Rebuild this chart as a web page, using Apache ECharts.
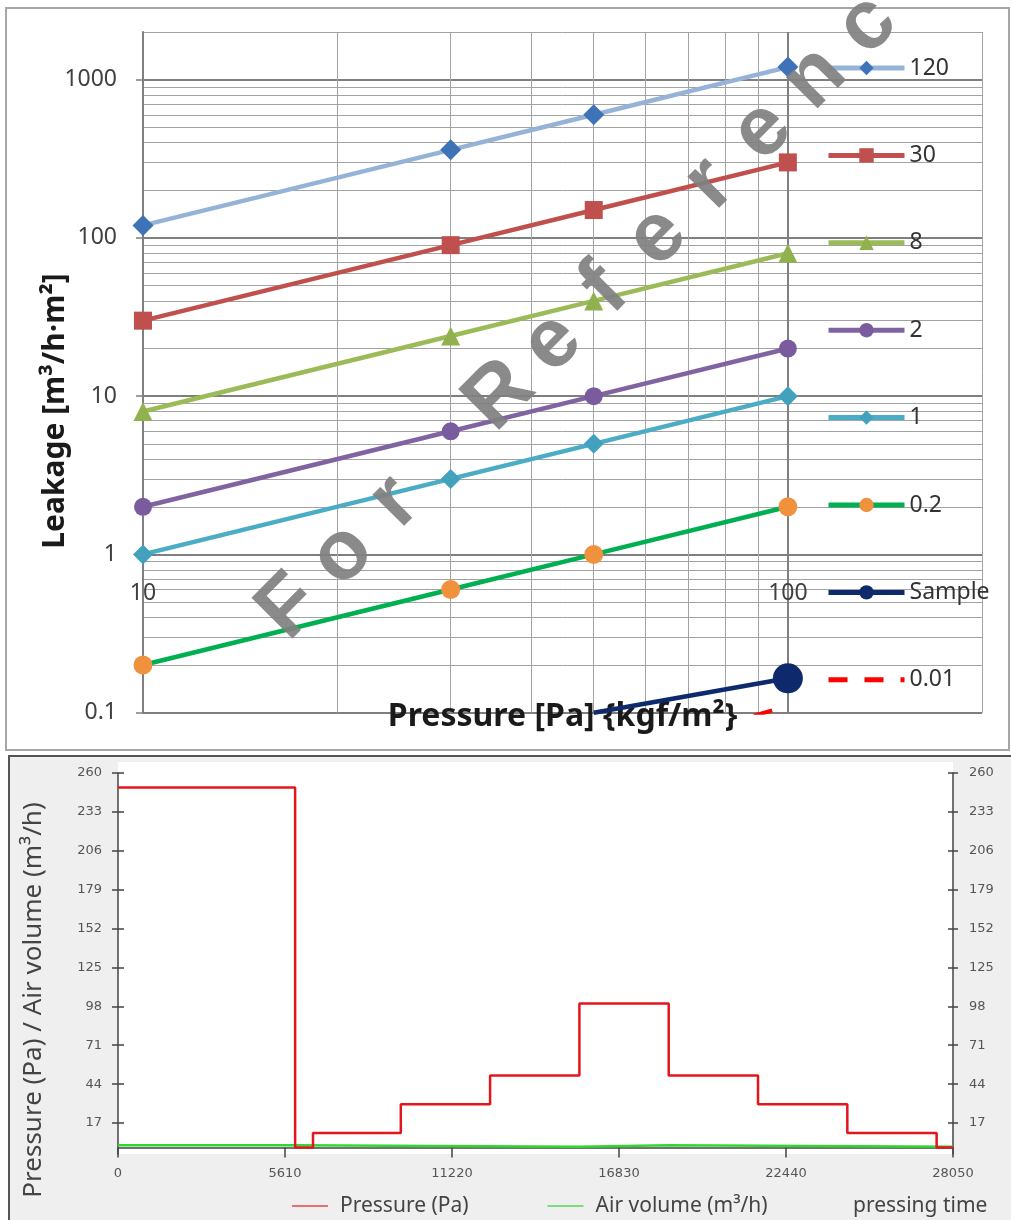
<!DOCTYPE html>
<html><head><meta charset="utf-8">
<script src="https://cdn.jsdelivr.net/npm/echarts@6/dist/echarts.min.js"></script>
<style>html,body{margin:0;padding:0;background:#fff}#c{width:1011px;height:1220px}</style>
</head><body><div id="c"></div>
<script>
// ---------- Top chart: leakage vs pressure (log-log) ----------
const pressurePoints = [10, 30, 50, 100];
const leak120 = [120, 360, 600, 1200];
const leak30 = [30, 90, 150, 300];
const leak8 = [8, 24, 40, 80];
const leak2 = [2, 6, 10, 20];
const leak1 = [1, 3, 5, 10];
const leak02 = [0.2, 0.6, 1, 2];
const leakSample = [null, null, 0.1, 0.165];
const leak001 = [0.01, 0.03, 0.05, 0.11];
const yMajor = [0.1, 1, 10, 100, 1000];
const yMinor = [0.2,0.3,0.4,0.5,0.6,0.7,0.8,0.9, 2,3,4,5,6,7,8,9, 20,30,40,50,60,70,80,90, 200,300,400,500,600,700,800,900, 2000];
const xMajor = [10, 100];
const xMinor = [20,30,40,50,60,70,80,90,200];
const topLegendNames = ['120','30','8','2','1','0.2','Sample','0.01'];

// ---------- Bottom chart: pressure / air volume vs pressing time ----------
const timePoints = [0, 5950, 6550, 9500, 12500, 15500, 18500, 21500, 24500, 27500, 28050];
const pressureSteps = [250, 0, 10, 30, 50, 100, 50, 30, 10, 0, 0];
const airTimes = [0, 5950, 15500, 18500, 28050];
const airSteps = [1.5, 0.5, 1.5, 0.5, 0.5];
const pvTicks = [17, 44, 71, 98, 125, 152, 179, 206, 233, 260];
const watermarkText = 'For Reference';

const font = '"Noto Sans", "DejaVu Sans", sans-serif';
function pairs(xs, ys) { return xs.map((x, i) => [x, ys[i]]).filter(p => p[1] != null); }
const fmt = v => String(+(+v).toPrecision(6));

const topDefs = [
  {name:'120', data:leak120, line:'#95b3d7', mark:'#3f73b8', symbol:'diamond', size:21},
  {name:'30', data:leak30, line:'#c0504d', mark:'#c0504d', symbol:'rect', size:18},
  {name:'8', data:leak8, line:'#9bbb59', mark:'#8fb24e', symbol:'triangle', size:19},
  {name:'2', data:leak2, line:'#8064a2', mark:'#7a5c9e', symbol:'circle', size:18},
  {name:'1', data:leak1, line:'#4bacc6', mark:'#42a2bd', symbol:'diamond', size:20},
  {name:'0.2', data:leak02, line:'#00b050', mark:'#f0913e', symbol:'circle', size:19}
];

const series = topDefs.map(d => ({
  type:'line', name:d.name, xAxisIndex:0, yAxisIndex:0,
  data: pairs(pressurePoints, d.data),
  symbol:d.symbol, symbolSize:d.size,
  lineStyle:{color:d.line, width:4.5}, itemStyle:{color:d.mark}, z:3
}));
const samplePairs = pairs(pressurePoints, leakSample);
series.push({
  type:'line', name:'Sample', xAxisIndex:0, yAxisIndex:0,
  data: samplePairs.map((p, i) => i === samplePairs.length - 1 ? {value:p, symbolSize:30} : {value:p, symbol:'none'}),
  symbol:'circle', symbolSize:10,
  lineStyle:{color:'#0e2a6c', width:4.5}, itemStyle:{color:'#0e2a6c'}, z:3
});
series.push({
  type:'line', name:'0.01', xAxisIndex:0, yAxisIndex:0,
  data: pairs(pressurePoints, leak001), symbol:'none',
  lineStyle:{color:'#ff0000', width:4, type:[19,17], dashOffset:17.6}, itemStyle:{color:'#ff0000'}, z:3
});
series.push({
  type:'line', name:'Pressure (Pa)', xAxisIndex:2, yAxisIndex:2, step:'end', symbol:'none',
  data: pairs(timePoints, pressureSteps), lineStyle:{color:'#e3161c', width:2.5}, itemStyle:{color:'#e3161c'}, z:4
});
series.push({
  type:'line', name:'Air volume (m³/h)', xAxisIndex:2, yAxisIndex:2, step:'end', symbol:'none',
  data: pairs(airTimes, airSteps), lineStyle:{color:'#2fd82f', width:2.5}, itemStyle:{color:'#2fd82f'}, z:3
});

const majorLine = {show:true, lineStyle:{color:'#7f7f7f', width:2}};
const minorLine = {show:true, lineStyle:{color:'#a3a3a3', width:1}};
const smallFont = '"DejaVu Sans", sans-serif';

const option = {
  animation:false,
  backgroundColor:'#ffffff',
  grid:[
    {left:143, top:32, width:839, height:680.7},
    {left:118, top:773, width:835, height:381}
  ],
  xAxis:[
    {gridIndex:0, type:'log', logBase:10, min:10, max:200, position:'bottom', offset:-139,
     axisLine:{show:false}, axisTick:{show:false, customValues:xMajor},
     axisLabel:{customValues:xMajor, fontSize:23, color:'#404040', fontFamily:font, formatter:fmt},
     splitLine:majorLine},
    {gridIndex:0, type:'log', logBase:10, min:10, max:200, position:'bottom',
     axisLine:{show:false}, axisTick:{show:false, customValues:xMinor}, axisLabel:{show:false},
     splitLine:minorLine,
     name:'Pressure [Pa] {kgf/m²}', nameLocation:'middle', nameGap:-12,
     nameTextStyle:{fontSize:32, fontWeight:'bold', color:'#1a1a1a', fontFamily:font}},
    {gridIndex:1, type:'value', min:0, max:28050, interval:5610, position:'bottom',
     axisLine:{lineStyle:{color:'#444', width:1.5}},
     axisTick:{length:10, lineStyle:{color:'#444', width:1.5}},
     axisLabel:{fontSize:13, color:'#555', margin:13, fontFamily:smallFont, formatter:v => String(v)},
     splitLine:{show:false}}
  ],
  yAxis:[
    {gridIndex:0, type:'log', logBase:10, min:0.1, max:2000, position:'left',
     axisLine:{show:true, lineStyle:{color:'#7f7f7f', width:2}},
     axisTick:{show:true, length:7, customValues:yMajor, lineStyle:{color:'#7f7f7f', width:1.5}},
     axisLabel:{customValues:yMajor, fontSize:23, color:'#404040', margin:26, fontFamily:font, formatter:fmt},
     splitLine:majorLine},
    {gridIndex:0, type:'log', logBase:10, min:0.1, max:2000, position:'left',
     axisLine:{show:false}, axisTick:{show:false, customValues:yMinor}, axisLabel:{show:false},
     splitLine:minorLine},
    {gridIndex:1, type:'value', position:'left', min:-4.5, max:260,
     axisLine:{show:true, lineStyle:{color:'#444', width:1.5}},
     axisTick:{show:true, length:6, customValues:pvTicks, lineStyle:{color:'#444', width:1.5}},
     axisLabel:{customValues:pvTicks, fontSize:13, color:'#555', margin:16, fontFamily:smallFont},
     splitLine:{show:false}},
    {gridIndex:1, type:'value', position:'left', min:-4.5, max:260,
     axisLine:{show:false},
     axisTick:{show:true, inside:true, length:6, customValues:pvTicks, lineStyle:{color:'#444', width:1.5}},
     axisLabel:{show:false}, splitLine:{show:false}},
    {gridIndex:1, type:'value', position:'right', min:-4.5, max:260,
     axisLine:{show:true, lineStyle:{color:'#444', width:1.5}},
     axisTick:{show:true, length:5, customValues:pvTicks, lineStyle:{color:'#444', width:1.5}},
     axisLabel:{customValues:pvTicks, fontSize:13, color:'#555', margin:16, fontFamily:smallFont},
     splitLine:{show:false}},
    {gridIndex:1, type:'value', position:'right', min:-4.5, max:260,
     axisLine:{show:false},
     axisTick:{show:true, inside:true, length:5, customValues:pvTicks, lineStyle:{color:'#444', width:1.5}},
     axisLabel:{show:false}, splitLine:{show:false}}
  ],
  legend:[
    {orient:'vertical', left:826, top:56, padding:0, itemWidth:76, itemHeight:18, itemGap:63.4,
     selectedMode:false, lineStyle:{width:5, dashOffset:0},
     data: topLegendNames.map(n => n === '0.01' ? {name:n, itemStyle:{opacity:0}} : n),
     textStyle:{fontSize:23, lineHeight:24, color:'#333', fontFamily:font}},
    {orient:'horizontal', left:292, top:1194, padding:0, itemWidth:36, itemHeight:2, itemGap:79,
     icon:'rect', selectedMode:false,
     data:[{name:'Pressure (Pa)', itemStyle:{color:'#e87070'}}, {name:'Air volume (m³/h)', itemStyle:{color:'#7ddc7d'}}],
     textStyle:{fontSize:21, lineHeight:24, color:'#444', fontFamily:font, padding:[0,0,0,7]}}
  ],
  graphic:[
    {type:'rect', z:-100, shape:{x:6, y:8, width:1003, height:742}, style:{fill:'#fff', stroke:'#a6a6a6', lineWidth:2}},
    {type:'rect', z:-100, shape:{x:9, y:756, width:1010, height:470}, style:{fill:'#efefef', stroke:'#555', lineWidth:2}},
    {type:'rect', z:-99, shape:{x:118, y:762, width:835, height:392}, style:{fill:'#ffffff'}},
    {type:'text', x:55, y:411, rotation:Math.PI/2, z:10,
     style:{text:'Leakage [m³/h·m²]', font:'bold 30px ' + font, fill:'#1a1a1a', textAlign:'center', textVerticalAlign:'middle'}},
    {type:'text', x:34, y:1000, rotation:Math.PI/2, z:10,
     style:{text:'Pressure (Pa) / Air volume (m³/h)', font:'26px ' + font, fill:'#444', textAlign:'center', textVerticalAlign:'middle'}},
    {type:'text', x:853, y:1206, z:10,
     style:{text:'pressing time', font:'21px ' + font, fill:'#444', textAlign:'left', textVerticalAlign:'middle'}},
    {type:'group', x:290, y:608, rotation:0.79, z:100,
     children: watermarkText.split('').map((ch, i) => ({
       type:'text', x:i * 74.6, y:0, z:100,
       style:{text:ch, font:'bold 84px "Liberation Sans", sans-serif', fill:'rgba(128,128,128,0.92)', textAlign:'center', textVerticalAlign:'middle'}
     }))}
  ],
  series: series
};
const chart = echarts.init(document.getElementById('c'));
chart.setOption(option);
</script>
</body></html>
